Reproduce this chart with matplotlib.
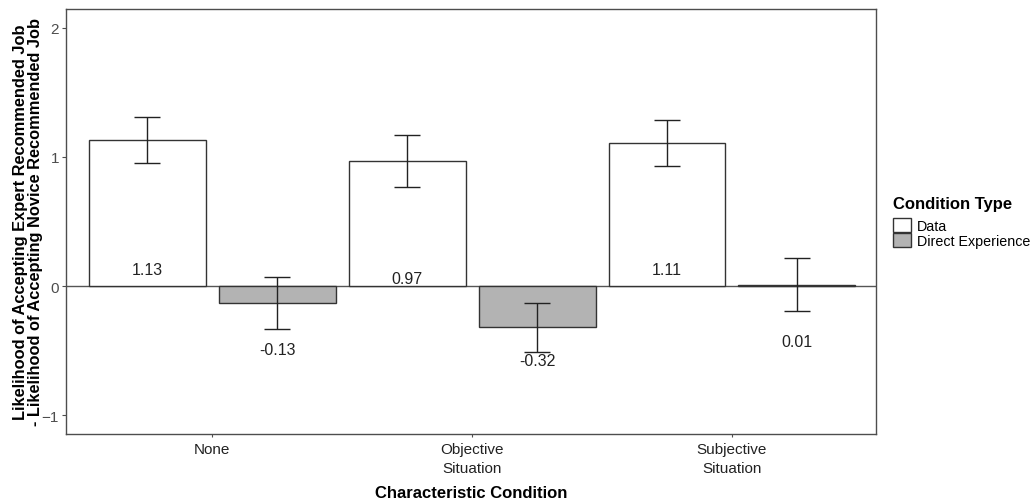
import numpy as np
import matplotlib
matplotlib.use("Agg")
from matplotlib import pyplot as plt, patches

plt.rcParams['font.family'] = ['Liberation Sans', 'DejaVu Sans']

conditions = ["None", "Objective\nSituation", "Subjective\nSituation"]
types = ["Data", "Direct Experience"]
data_vals = [1.13, 0.97, 1.11]
direct_vals = [-0.13, -0.32, 0.01]
data_err = [0.18, 0.20, 0.18]
direct_err = [0.20, 0.19, 0.205]
data_label_y = [0.13, 0.06, 0.13]
direct_label_y = [-0.49, -0.58, -0.43]

fig = plt.figure(figsize=(10.35, 5.02), dpi=100)
ax = fig.add_axes([66 / 1035, 1 - 435 / 502, 810 / 1035, 425 / 502])

x = np.arange(1, len(conditions) + 1)
w = 0.45
off = 0.25
edge = "#333333"
ax.axhline(0, color="#555555", lw=1.0, zorder=1)
ax.bar(x - off, data_vals, w, color="white", edgecolor=edge, lw=1.0, zorder=2, label=types[0])
ax.bar(x + off, direct_vals, w, color="#b3b3b3", edgecolor=edge, lw=1.0, zorder=2, label=types[1])
ax.errorbar(x - off, data_vals, yerr=data_err, fmt="none", ecolor="#222222", elinewidth=1.0, capsize=9.5, capthick=1.0, zorder=3)
ax.errorbar(x + off, direct_vals, yerr=direct_err, fmt="none", ecolor="#222222", elinewidth=1.0, capsize=9.5, capthick=1.0, zorder=3)

for xi, v, ly in zip(x - off, data_vals, data_label_y):
    ax.text(xi, ly, f"{v:.2f}", ha="center", va="center", fontsize=11.5, color="#222222")
for xi, v, ly in zip(x + off, direct_vals, direct_label_y):
    ax.text(xi, ly, f"{v:.2f}", ha="center", va="center", fontsize=11.5, color="#222222")

ax.set_xlim(0.438, 3.554)
ax.set_ylim(-1.147, 2.147)
ax.set_yticks([-1, 0, 1, 2])
ax.set_xticks(x)
ax.set_xticklabels(conditions, fontsize=11, color="#222222", linespacing=1.45)
ax.tick_params(axis="y", labelsize=11, labelcolor="#4d4d4d", color="#4d4d4d", length=3, pad=2)
ax.tick_params(axis="x", color="#4d4d4d", length=2, pad=4)
for s in ax.spines.values():
    s.set_color("#4d4d4d")
    s.set_linewidth(1.0)

ax.set_xlabel("Characteristic Condition", fontsize=12, fontweight="bold", labelpad=7)
ax.set_ylabel("Likelihood of Accepting Expert Recommended Job\n- Likelihood of Accepting Novice Recommended Job",
              fontsize=11.8, fontweight="bold", linespacing=0.95)
ax.yaxis.set_label_coords(-0.029, 0.5)

leg = ax.legend(title="Condition Type", loc="upper left", bbox_to_anchor=(1.021, 0.56),
                frameon=False, fontsize=10.3, title_fontproperties={"weight": "bold", "size": 12},
                handlelength=1.25, handleheight=1.15, handletextpad=0.4, labelspacing=0.0,
                borderaxespad=0, borderpad=0)
leg._legend_box.align = "left"
leg._legend_box.sep = 5

fig.savefig("out.png", dpi=100)
